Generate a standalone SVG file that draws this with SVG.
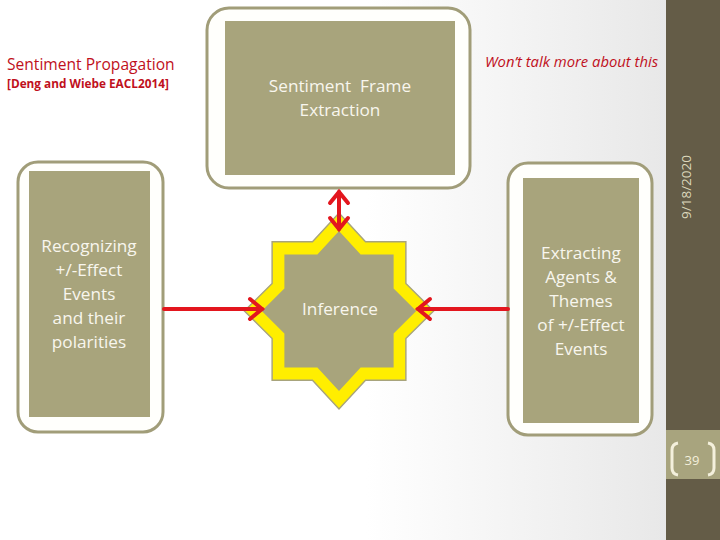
<svg xmlns="http://www.w3.org/2000/svg" width="720" height="540" viewBox="0 0 720 540">
<defs>
<linearGradient id="bg" x1="0" y1="0" x2="1" y2="0">
<stop offset="0" stop-color="#ffffff"/>
<stop offset="0.55" stop-color="#ffffff"/>
<stop offset="1" stop-color="#e8e8e8"/>
</linearGradient>
<style>
.frame{fill:#fffffc;stroke:#a19d79;stroke-width:3}
.fill{fill:#a8a47c}
.lbl{font-family:"Open Sans","Noto Sans",sans-serif;font-size:17.2px;fill:#f8f6ee;text-anchor:middle}
.red{font-family:"Open Sans","Noto Sans",sans-serif;fill:#c0101c}
.arr{stroke:#e3161e;stroke-width:4;fill:none;stroke-linecap:round;stroke-linejoin:miter}
</style>
</defs>
<rect width="666" height="540" fill="url(#bg)"/>
<rect x="666" y="0" width="54" height="540" fill="#645c47"/>
<rect x="666" y="430" width="54" height="49" fill="#a8a47e"/>
<text x="686" y="187" transform="rotate(-90 686 187)" font-family="'Open Sans','Noto Sans',sans-serif" font-size="13.5" fill="#dcd8bc" text-anchor="middle" dominant-baseline="central">9/18/2020</text>
<text x="692" y="465" font-family="'Open Sans','Noto Sans',sans-serif" font-size="13" fill="#f4f0dc" text-anchor="middle">39</text>
<path d="M678,443 Q672,444 672,450 L672,468 Q672,474 678,475" fill="none" stroke="#f4f0dc" stroke-width="3"/>
<path d="M708,443 Q714,444 714,450 L714,468 Q714,474 708,475" fill="none" stroke="#f4f0dc" stroke-width="3"/>

<text class="red" x="7" y="70" font-size="15.6">Sentiment Propagation</text>
<text class="red" x="7" y="88" font-size="11.8" font-weight="bold">[Deng and Wiebe EACL2014]</text>
<text class="red" x="485" y="67" font-size="14.8" font-style="italic">Won’t talk more about this</text>

<g id="frame-extraction">
<rect class="frame" x="207" y="8" width="263" height="180" rx="22"/>
<rect class="fill" x="225" y="21" width="230" height="154"/>
<text class="lbl" x="340" y="92" xml:space="preserve">Sentiment  Frame</text>
<text class="lbl" x="340" y="116">Extraction</text>
</g>

<g id="recognizing">
<rect class="frame" x="18" y="162" width="145" height="270" rx="20"/>
<rect class="fill" x="29" y="171" width="121" height="246"/>
<text class="lbl" x="89" y="252">Recognizing</text>
<text class="lbl" x="89" y="276">+/-Effect</text>
<text class="lbl" x="89" y="300">Events</text>
<text class="lbl" x="89" y="324">and their</text>
<text class="lbl" x="89" y="348">polarities</text>
</g>

<g id="extracting">
<rect class="frame" x="508" y="163" width="144" height="272" rx="20"/>
<rect class="fill" x="523" y="178" width="116" height="245"/>
<text class="lbl" x="581" y="259">Extracting</text>
<text class="lbl" x="581" y="283">Agents &amp;</text>
<text class="lbl" x="581" y="307">Themes</text>
<text class="lbl" x="581" y="331">of +/-Effect</text>
<text class="lbl" x="581" y="355">Events</text>
</g>

<g id="inference">
<g transform="translate(339 311) scale(0.965 1)">
<polygon points="0,-98 27.5,-69.3 69.3,-69.3 69.3,-27.5 98,0 69.3,27.5 69.3,69.3 27.5,69.3 0,98 -27.5,69.3 -69.3,69.3 -69.3,27.5 -98,0 -69.3,-27.5 -69.3,-69.3 -27.5,-69.3" fill="#ffee00" stroke="#a8a47c" stroke-width="1.5"/>
<polygon points="0,-80 22.4,-56.6 56.6,-56.6 56.6,-22.4 80,0 56.6,22.4 56.6,56.6 22.4,56.6 0,80 -22.4,56.6 -56.6,56.6 -56.6,22.4 -80,0 -56.6,-22.4 -56.6,-56.6 -22.4,-56.6" fill="#a8a47c"/>
</g>
<text class="lbl" x="340" y="315">Inference</text>
</g>

<g id="connectors">
<line class="arr" x1="164" y1="309" x2="262" y2="309"/>
<polyline class="arr" points="250,299 262,309 250,319"/>
<line class="arr" x1="508" y1="309" x2="418" y2="309"/>
<polyline class="arr" points="430,299 418,309 430,319"/>
<line class="arr" x1="339" y1="192" x2="339" y2="229"/>
<polyline class="arr" points="330,203 339,192 348,203"/>
<polyline class="arr" points="330,218 339,229 348,218"/>
</g>
</svg>
